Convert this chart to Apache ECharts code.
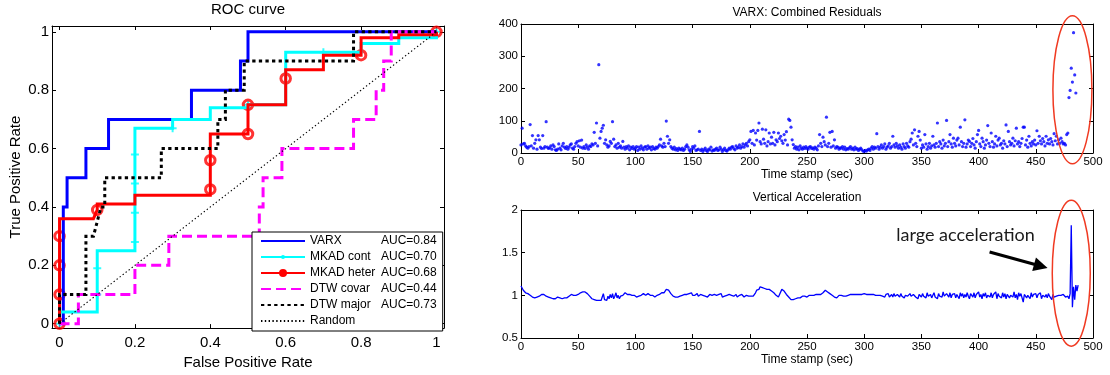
<!DOCTYPE html>
<html><head><meta charset="utf-8">
<script src="https://cdn.jsdelivr.net/npm/echarts@6/dist/echarts.min.js"></script>
<style>html,body{margin:0;padding:0;background:#fff}#c{width:1110px;height:375px}</style>
</head><body><div id="c"></div>
<script>
// ---------------- ROC data ----------------
const rocTicks = [0, 0.2, 0.4, 0.6, 0.8, 1];
const rocTickLabels = ['0', '0.2', '0.4', '0.6', '0.8', '1'];
const seriesNames = ['VARX', 'MKAD cont', 'MKAD heter', 'DTW covar', 'DTW major', 'Random'];
const aucValues = ['0.84', '0.70', '0.68', '0.44', '0.73', ''];

const varxFpr = [0, 0.01, 0.01, 0.02, 0.02, 0.07, 0.07, 0.13, 0.13, 0.35, 0.35, 0.48, 0.48, 0.50, 0.50, 1.00];
const varxTpr = [0, 0, 0.40, 0.40, 0.50, 0.50, 0.60, 0.60, 0.70, 0.70, 0.80, 0.80, 0.90, 0.90, 1.00, 1.00];

const mkadContFpr = [0, 0, 0.10, 0.10, 0.20, 0.20, 0.30, 0.30, 0.40, 0.40, 0.50, 0.50, 0.60, 0.60, 0.80, 0.80, 0.90, 0.90, 1.00, 1.00];
const mkadContTpr = [0, 0.04, 0.04, 0.25, 0.25, 0.67, 0.67, 0.70, 0.70, 0.74, 0.74, 0.75, 0.75, 0.93, 0.93, 0.96, 0.96, 0.98, 0.98, 1.00];
const mkadContMarkFpr = [0, 0.10, 0.10, 0.20, 0.20, 0.20, 0.20, 0.30, 0.50, 0.70, 1.00];
const mkadContMarkTpr = [0, 0.10, 0.19, 0.28, 0.38, 0.48, 0.58, 0.67, 0.75, 0.93, 1.00];

const mkadHeterFpr = [0, 0, 0.09, 0.10, 0.10, 0.20, 0.20, 0.40, 0.40, 0.50, 0.50, 0.60, 0.60, 0.70, 0.70, 0.80, 0.80, 0.90, 0.90, 1.00, 1.00];
const mkadHeterTpr = [0, 0.36, 0.36, 0.39, 0.41, 0.41, 0.44, 0.44, 0.65, 0.65, 0.75, 0.75, 0.87, 0.87, 0.92, 0.92, 0.98, 0.98, 0.99, 0.99, 1.00];
const mkadHeterMarkFpr = [0, 0, 0, 0, 0.10, 0.40, 0.40, 0.50, 0.50, 0.60, 0.80, 1.00];
const mkadHeterMarkTpr = [0, 0.10, 0.20, 0.30, 0.39, 0.46, 0.56, 0.65, 0.75, 0.84, 0.92, 1.00];

const dtwCovarFpr = [0, 0.05, 0.05, 0.20, 0.20, 0.29, 0.29, 0.53, 0.53, 0.54, 0.54, 0.59, 0.59, 0.78, 0.78, 0.84, 0.84, 0.86, 0.86, 0.88, 0.88, 1.00];
const dtwCovarTpr = [0, 0, 0.10, 0.10, 0.20, 0.20, 0.30, 0.30, 0.40, 0.40, 0.50, 0.50, 0.60, 0.60, 0.70, 0.70, 0.80, 0.80, 0.90, 0.90, 1.00, 1.00];

const dtwMajorFpr = [0, 0, 0.07, 0.07, 0.09, 0.11, 0.12, 0.12, 0.27, 0.27, 0.42, 0.42, 0.44, 0.44, 0.49, 0.49, 0.78, 0.78, 1.00];
const dtwMajorTpr = [0, 0.10, 0.10, 0.30, 0.30, 0.40, 0.40, 0.50, 0.50, 0.60, 0.60, 0.70, 0.70, 0.80, 0.80, 0.90, 0.90, 1.00, 1.00];

const randomFpr = [0, 1];
const randomTpr = [0, 1];

// ---------------- VARX combined residuals (one value per second, t = 0..485) ----------------
const residuals = [
 25, 77, 28, 30, 22, 18, 15, 20, 88, 22,
 54, 15, 30, 41, 12, 54, 41, 18, 14, 54,
 15, 20, 97, 18, 14, 16, 22, 12, 25, 20,
 10, 8, 12, 28, 15, 10, 22, 30, 18, 14,
 20, 12, 18, 25, 28, 15, 12, 20, 30, 35,
 22, 38, 18, 40, 15, 20, 14, 25, 18, 12,
 22, 20, 28, 25, 64, 30, 93, 22, 274, 46,
 67, 77, 86, 30, 41, 25, 18, 22, 36, 30,
 97, 43, 20, 25, 15, 30, 18, 22, 15, 36,
 18, 12, 20, 15, 22, 10, 18, 14, 20, 12,
 15, 20, 8, 18, 12, 22, 15, 10, 18, 20,
 12, 22, 15, 18, 10, 20, 14, 12, 18, 15,
 20, 25, 43, 22, 18, 30, 20, 99, 52, 30,
 41, 20, 15, 12, 18, 10, 14, 8, 15, 12,
 10, 15, 8, 12, 20, 25, 18, 10, 5, 12,
 20, 15, 22, 8, 10, 12, 67, 8, 12, 5,
 10, 15, 8, 5, 12, 10, 18, 6, 10, 8,
 12, 15, 8, 10, 18, 12, 5, 10, 15, 8,
 6, 10, 15, 12, 18, 20, 14, 10, 22, 15,
 18, 25, 15, 20, 28, 18, 25, 30, 22, 35,
 41, 67, 30, 70, 25, 62, 40, 70, 93, 35,
 28, 74, 43, 30, 72, 22, 35, 62, 28, 49,
 30, 64, 25, 41, 35, 62, 45, 52, 38, 30,
 57, 40, 66, 25, 105, 101, 80, 41, 26, 15,
 20, 12, 18, 10, 22, 15, 12, 18, 14, 20,
 15, 12, 18, 20, 14, 16, 12, 18, 15, 10,
 22, 57, 30, 20, 49, 35, 25, 111, 20, 30,
 64, 18, 67, 22, 41, 15, 20, 18, 12, 16,
 15, 20, 12, 18, 10, 14, 12, 16, 20, 12,
 15, 10, 18, 12, 14, 8, 12, 15, 10, 6,
 5, 8, 6, 10, 12, 8, 15, 20, 12, 18,
 15, 60, 20, 12, 18, 25, 15, 20, 28, 12,
 18, 22, 30, 15, 20, 52, 25, 18, 30, 22,
 15, 25, 18, 12, 28, 20, 15, 30, 22, 18,
 35, 43, 62, 25, 72, 30, 20, 52, 67, 40,
 15, 25, 18, 57, 28, 12, 20, 30, 15, 22,
 52, 25, 18, 30, 93, 20, 35, 28, 15, 40,
 22, 30, 101, 20, 35, 57, 28, 18, 46, 30,
 22, 40, 46, 25, 80, 35, 20, 30, 103, 18,
 28, 40, 36, 20, 30, 45, 25, 15, 35, 57,
 70, 28, 20, 46, 35, 15, 25, 40, 85, 30,
 20, 62, 35, 18, 28, 52, 22, 40, 46, 25,
 30, 15, 38, 28, 87, 20, 67, 35, 25, 30,
 46, 22, 38, 77, 28, 35, 20, 30, 45, 80,
 80, 25, 40, 18, 52, 30, 22, 35, 28, 40,
 25, 69, 30, 52, 38, 28, 45, 35, 22, 52,
 30, 41, 28, 45, 35, 25, 60, 38, 52, 28,
 41, 30, 46, 35, 28, 30, 25, 57, 62, 172,
 194, 263, 220, 373, 242, 186
];

// ---------------- Vertical acceleration (one value per second, t = 0..487) ----------------
const acceleration = [
 1.11, 1.09, 1.06, 1.04, 1.03, 1.03, 1.02, 1.01, 1.00, 0.99,
 0.98, 0.97, 0.97, 0.97, 0.98, 0.98, 0.99, 1.00, 1.01, 1.01,
 1.01, 1.00, 0.99, 0.98, 0.98, 0.98, 0.97, 0.97, 0.96, 0.97,
 0.96, 0.97, 0.98, 0.98, 0.97, 0.96, 0.96, 0.97, 0.97, 0.98,
 0.97, 0.98, 0.99, 1.00, 1.01, 1.01, 1.00, 1.01, 1.00, 1.00,
 1.01, 1.02, 1.03, 1.04, 1.04, 1.05, 1.04, 1.04, 1.02, 1.00,
 0.99, 0.97, 0.96, 0.97, 0.95, 0.96, 0.94, 0.92, 0.94, 0.96,
 0.94, 0.98, 1.02, 0.95, 0.97, 0.94, 0.99, 0.96, 1.01, 0.97,
 1.02, 0.96, 0.99, 1.03, 0.97, 1.00, 0.96, 0.99, 0.98, 1.00,
 1.02, 1.03, 1.02, 1.01, 1.00, 1.01, 0.99, 1.00, 0.98, 1.00,
 0.99, 0.98, 1.00, 0.99, 1.01, 1.00, 1.01, 1.02, 1.01, 1.00,
 1.01, 1.02, 1.01, 1.00, 0.99, 1.00, 0.99, 0.98, 0.99, 1.00,
 1.01, 1.01, 1.02, 1.03, 1.04, 1.03, 1.05, 1.07, 1.05, 1.06,
 1.04, 1.02, 1.01, 0.99, 0.97, 0.98, 0.97, 0.98, 0.97, 0.99,
 0.98, 1.00, 0.99, 1.01, 1.02, 1.01, 1.00, 1.02, 1.03, 1.03,
 1.00, 0.99, 1.00, 0.98, 1.02, 0.99, 1.00, 1.01, 0.99, 1.00,
 1.01, 0.99, 1.00, 0.98, 1.00, 1.01, 0.99, 1.00, 0.98, 1.01,
 0.99, 1.00, 0.98, 1.01, 0.99, 1.02, 0.98, 1.00, 0.99, 1.01,
 1.00, 0.99, 1.01, 0.99, 1.00, 1.01, 0.99, 1.00, 1.01, 0.98,
 0.99, 1.00, 0.99, 1.01, 0.99, 0.98, 0.99, 1.00, 0.99, 0.99,
 0.98, 0.99, 1.00, 0.99, 1.01, 1.03, 1.06, 1.08, 1.07, 1.10,
 1.08, 1.09, 1.07, 1.08, 1.07, 1.07, 1.06, 1.07, 1.06, 1.05,
 1.04, 1.03, 1.02, 1.00, 0.99, 0.98, 1.01, 1.03, 1.07, 1.08,
 1.05, 1.03, 1.01, 0.99, 0.98, 0.96, 0.95, 0.94, 0.95, 0.95,
 0.96, 0.96, 0.97, 0.98, 0.97, 0.98, 0.99, 0.98, 0.99, 0.99,
 0.98, 0.99, 1.00, 0.99, 1.00, 1.01, 1.00, 0.99, 1.01, 1.00,
 1.01, 1.02, 1.01, 1.02, 1.03, 1.05, 1.06, 1.05, 1.04, 1.03,
 1.02, 1.01, 1.00, 0.99, 0.98, 0.98, 0.97, 0.99, 1.00, 0.99,
 1.00, 0.98, 0.99, 1.00, 0.99, 0.98, 1.00, 0.99, 1.01, 1.00,
 1.01, 1.02, 1.01, 1.00, 1.01, 1.02, 1.01, 1.02, 1.01, 1.01,
 1.02, 1.01, 1.01, 1.00, 1.01, 1.02, 1.01, 1.00, 1.01, 0.99,
 1.00, 1.01, 1.00, 0.99, 1.00, 1.01, 0.99, 1.00, 0.98, 1.01,
 0.99, 1.02, 0.98, 1.00, 1.01, 0.98, 1.02, 0.99, 0.97, 1.01,
 1.00, 0.98, 1.02, 0.99, 1.01, 0.97, 1.00, 1.02, 0.99, 0.98,
 1.02, 0.99, 0.97, 1.01, 1.03, 0.98, 1.00, 0.96, 1.01, 1.00,
 0.98, 1.02, 0.99, 1.01, 0.97, 1.03, 0.99, 0.98, 1.01, 0.97,
 1.00, 1.03, 0.98, 1.00, 0.96, 1.02, 0.99, 1.01, 0.98, 1.04,
 0.99, 0.97, 1.02, 1.00, 0.98, 1.03, 0.97, 1.01, 0.99, 1.02,
 0.97, 1.01, 1.00, 0.96, 1.03, 0.99, 1.02, 0.97, 1.01, 0.98,
 1.03, 0.99, 0.96, 1.02, 1.00, 0.98, 1.03, 0.97, 1.01, 0.99,
 1.04, 0.98, 1.01, 0.96, 1.02, 0.99, 1.03, 0.97, 1.00, 1.02,
 0.98, 1.03, 0.97, 1.01, 0.99, 1.04, 0.96, 1.02, 0.99, 1.01,
 0.97, 1.03, 0.98, 1.02, 0.96, 1.01, 1.03, 0.97, 1.00, 1.02,
 0.98, 1.04, 0.97, 1.01, 0.95, 1.03, 0.99, 1.02, 0.97, 0.92,
 1.01, 1.03, 0.97, 1.00, 1.02, 0.96, 1.03, 0.98, 1.01, 0.99,
 1.02, 0.97, 1.01, 0.99, 1.03, 0.96, 1.00, 1.02, 0.98, 1.01,
 0.97, 1.02, 0.99, 1.00, 0.95, 1.01, 0.98, 1.00, 0.99, 1.01,
 1.00, 0.98, 1.00, 0.99, 1.01, 0.99, 0.98, 1.00, 0.99, 0.96,
 1.02, 1.82, 0.86, 1.10, 0.95, 1.12, 1.05, 1.12
];

const timeTicksInterval = 50;
const titles = ['ROC curve', 'VARX: Combined Residuals', 'Vertical Acceleration'];
const annotationText = 'large acceleration';

// ---------------- chart ----------------
const FONT = '"Liberation Sans", Arial, Helvetica, sans-serif';
const chart = echarts.init(document.getElementById('c'), null, { renderer: 'canvas' });
const pairs = (xs, ys) => xs.map((x, i) => [x, ys[i]]);
const indexed = vals => vals.map((v, i) => [i, v]);

const lineBlack = { color: '#000', width: 1 };
function axis(o) {
  const a = {
    type: 'value', gridIndex: o.grid, position: o.pos, min: o.min, max: o.max,
    axisLine: { show: true, onZero: false, lineStyle: lineBlack },
    axisTick: { show: true, inside: true, length: 4, lineStyle: lineBlack },
    axisLabel: { show: !!o.label, color: '#000', fontFamily: FONT, fontSize: o.fs || 11.5, margin: o.margin || 4 },
    splitLine: { show: false }
  };
  if (o.interval) a.interval = o.interval;
  if (o.custom) {
    a.axisTick.customValues = o.custom;
    a.axisLabel.customValues = o.custom;
    a.axisLabel.formatter = v => {
      const k = rocTicks.findIndex(t => Math.abs(t - v) < 1e-9);
      return k >= 0 ? rocTickLabels[k] : '';
    };
  }
  if (o.name) {
    a.name = o.name; a.nameLocation = 'middle'; a.nameGap = o.nameGap;
    a.nameTextStyle = { color: '#000', fontFamily: FONT, fontSize: o.nfs || 12 };
  }
  return a;
}

const grids = [
  { left: 52, top: 26, width: 392, height: 308 },
  { left: 521, top: 24, width: 572, height: 129 },
  { left: 521, top: 210, width: 572, height: 128 }
];

const xAxes = [
  axis({ grid: 0, pos: 'bottom', min: -0.02, max: 1.02, custom: rocTicks, label: true, fs: 15, margin: 7, name: 'False Positive Rate', nameGap: 22, nfs: 15 }),
  axis({ grid: 0, pos: 'top', min: -0.02, max: 1.02, custom: rocTicks }),
  axis({ grid: 1, pos: 'bottom', min: 0, max: 500, interval: timeTicksInterval, label: true, margin: 3, name: 'Time stamp (sec)', nameGap: 13 }),
  axis({ grid: 1, pos: 'top', min: 0, max: 500, interval: timeTicksInterval }),
  axis({ grid: 2, pos: 'bottom', min: 0, max: 500, interval: timeTicksInterval, label: true, margin: 3, name: 'Time stamp (sec)', nameGap: 14 }),
  axis({ grid: 2, pos: 'top', min: 0, max: 500, interval: timeTicksInterval })
];
const yAxes = [
  axis({ grid: 0, pos: 'left', min: -0.015, max: 1.02, custom: rocTicks, label: true, fs: 15, margin: 3, name: 'True Positive Rate', nameGap: 29, nfs: 15 }),
  axis({ grid: 0, pos: 'right', min: -0.015, max: 1.02, custom: rocTicks }),
  axis({ grid: 1, pos: 'left', min: 0, max: 400, interval: 100, label: true, margin: 3 }),
  axis({ grid: 1, pos: 'right', min: 0, max: 400, interval: 100 }),
  axis({ grid: 2, pos: 'left', min: 0.5, max: 2, interval: 0.5, label: true, margin: 3 }),
  axis({ grid: 2, pos: 'right', min: 0.5, max: 2, interval: 0.5 })
];

function rocLine(name, xs, ys, color, width, type, symbol) {
  return {
    name, type: 'line', xAxisIndex: 0, yAxisIndex: 0, data: pairs(xs, ys),
    showSymbol: false, symbol: symbol || 'circle', symbolSize: 6,
    itemStyle: { color }, silent: true,
    lineStyle: { color, width, type, cap: 'butt', join: 'miter' }
  };
}

const smallDot = 'path://M0,0M10,10M2.5,5a2.5,2.5 0 1,0 5,0a2.5,2.5 0 1,0 -5,0';

const series = [
  rocLine(seriesNames[0], varxFpr, varxTpr, '#0000ff', 3, 'solid'),
  rocLine(seriesNames[1], mkadContFpr, mkadContTpr, '#00ffff', 3, 'solid', smallDot),
  {
    name: 'mkadContMarks', type: 'scatter', xAxisIndex: 0, yAxisIndex: 0, silent: true,
    data: pairs(mkadContMarkFpr, mkadContMarkTpr),
    symbol: 'path://M3,0h2v8h-2zM0,3h8v2h-8z', symbolSize: 8, itemStyle: { color: '#00ffff' }
  },
  rocLine(seriesNames[2], mkadHeterFpr, mkadHeterTpr, '#ff0000', 3, 'solid', 'circle'),
  {
    name: 'mkadHeterMarks', type: 'scatter', xAxisIndex: 0, yAxisIndex: 0, silent: true,
    data: pairs(mkadHeterMarkFpr, mkadHeterMarkTpr),
    symbol: 'circle', symbolSize: 9.5,
    itemStyle: { color: 'rgba(0,0,0,0)', borderColor: '#ff0000', borderWidth: 3 }
  },
  rocLine(seriesNames[3], dtwCovarFpr, dtwCovarTpr, '#ff00ff', 3, [10, 5]),
  rocLine(seriesNames[4], dtwMajorFpr, dtwMajorTpr, '#000000', 3, [3.3, 3.3]),
  rocLine(seriesNames[5], randomFpr, randomTpr, '#000000', 1.1, [1.4, 2.4]),
  {
    name: 'residuals', type: 'scatter', xAxisIndex: 2, yAxisIndex: 2, silent: true,
    data: indexed(residuals), symbol: 'circle', symbolSize: 3.2, itemStyle: { color: '#0000ff' }
  },
  {
    name: 'acceleration', type: 'line', xAxisIndex: 4, yAxisIndex: 4, silent: true,
    data: indexed(acceleration), showSymbol: false, symbol: 'none',
    lineStyle: { color: '#0000ff', width: 1.3 }
  }
];

const withDot = { 'MKAD cont': true, 'MKAD heter': true };
const legendData = seriesNames.map(n => withDot[n] ? { name: n } : { name: n, itemStyle: { opacity: 0 } });

chart.setOption({
  animation: false,
  backgroundColor: '#fff',
  grid: grids,
  xAxis: xAxes,
  yAxis: yAxes,
  legend: {
    data: legendData,
    orient: 'vertical', left: 252, top: 232,
    padding: [3, 6, 4, 8],
    itemWidth: 44, itemHeight: 10, itemGap: 4,
    borderColor: '#000', borderWidth: 1, backgroundColor: '#fff',
    selectedMode: false,
    textStyle: {
      color: '#000', fontFamily: FONT, fontSize: 12,
      rich: {
        n: { width: 71, fontFamily: FONT, fontSize: 12, lineHeight: 14, color: '#000' },
        a: { fontFamily: FONT, fontSize: 12, lineHeight: 14, color: '#000' }
      }
    },
    formatter: name => {
      const k = seriesNames.indexOf(name);
      return '{n|' + name + '}' + (aucValues[k] ? '{a|AUC=' + aucValues[k] + '}' : '');
    }
  },
  series
});

// ---------------- titles and annotations ----------------
const px = (g, p) => chart.convertToPixel({ gridIndex: g }, p);
const topEllipseCenter = [482, 196];
const bottomEllipseCenter = [481, 1.26];
const textAnchor = [328, 1.72];
const arrowFrom = [409.6, 1.508];
const arrowTo = [460.3, 1.32];

const c1 = px(1, topEllipseCenter), c2 = px(2, bottomEllipseCenter);
const tp = px(2, textAnchor), a0 = px(2, arrowFrom), a1 = px(2, arrowTo);
const dx = a1[0] - a0[0], dy = a1[1] - a0[1], L = Math.hypot(dx, dy);
const ux = dx / L, uy = dy / L, hl = 14, hw = 7;
const base = [a1[0] - ux * hl, a1[1] - uy * hl];

function gridCenterX(g) { return grids[g].left + grids[g].width / 2; }

chart.setOption({
  graphic: [
    { type: 'text', x: gridCenterX(0), y: 10, style: { text: titles[0], font: '15px ' + FONT, fill: '#000', textAlign: 'center', textVerticalAlign: 'middle' } },
    { type: 'text', x: gridCenterX(1), y: 13, style: { text: titles[1], font: '12px ' + FONT, fill: '#000', textAlign: 'center', textVerticalAlign: 'middle' } },
    { type: 'text', x: gridCenterX(2), y: 198, style: { text: titles[2], font: '12px ' + FONT, fill: '#000', textAlign: 'center', textVerticalAlign: 'middle' } },
    { type: 'ellipse', shape: { cx: c1[0], cy: c1[1], rx: 19.5, ry: 74 }, style: { fill: 'none', stroke: '#f03a22', lineWidth: 1.5 }, z: 100 },
    { type: 'ellipse', shape: { cx: c2[0], cy: c2[1], rx: 19, ry: 73 }, style: { fill: 'none', stroke: '#f03a22', lineWidth: 1.5 }, z: 100 },
    { type: 'text', x: tp[0], y: tp[1] + 1, style: { text: annotationText, font: '18px Lato, "Open Sans", sans-serif', fill: '#1a1a1a', textAlign: 'left', textVerticalAlign: 'middle' }, z: 100 },
    { type: 'line', shape: { x1: a0[0], y1: a0[1], x2: base[0] + ux, y2: base[1] + uy }, style: { stroke: '#000', lineWidth: 3 }, z: 100 },
    { type: 'polygon', shape: { points: [a1, [base[0] - uy * hw, base[1] + ux * hw], [base[0] + uy * hw, base[1] - ux * hw]] }, style: { fill: '#000' }, z: 100 }
  ]
});
</script>
</body></html>
